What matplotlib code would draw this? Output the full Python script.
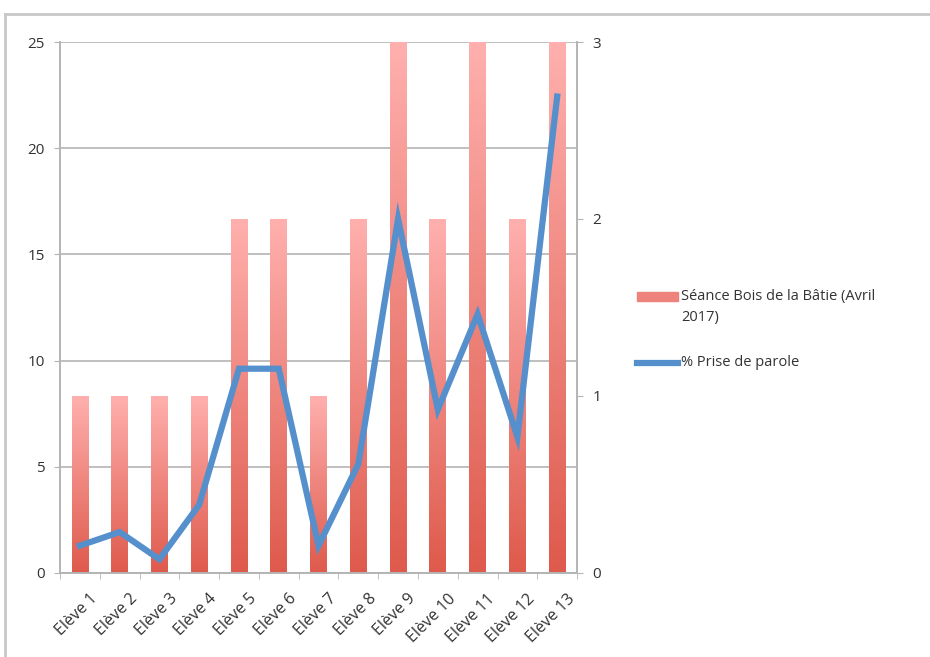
import numpy as np
import matplotlib.pyplot as plt
from matplotlib.colors import LinearSegmentedColormap
from matplotlib.lines import Line2D
from matplotlib.patches import Rectangle
from matplotlib.transforms import ScaledTranslation

plt.rcParams['font.family'] = ['Open Sans', 'DejaVu Sans']

eleves = ["Elève %d" % i for i in range(1, 14)]
seance = [8.33, 8.33, 8.33, 8.33, 16.67, 16.67, 8.33, 16.67, 25, 16.67, 25, 16.67, 25]
prise_parole = [0.154, 0.231, 0.077, 0.385, 1.154, 1.154, 0.154, 0.615, 2.0, 0.923, 1.462, 0.769, 2.692]

label_bars = "Séance Bois de la Bâtie (Avril\n2017)"
label_line = "% Prise de parole"

grid_col = "#b4b4b4"
text_col = "#333333"
line_col = "#5690CC"

W, H = 930, 657
fig = plt.figure(figsize=(W / 100, H / 100), dpi=100)
ax = fig.add_axes([0.0645, 0.128, 0.556, 0.808])
ax2 = ax.twinx()

x = np.arange(len(eleves))
bars = ax.bar(x, seance, width=0.42, color="none", zorder=2)

# degradé rose -> rouge sur chaque barre
cmap = LinearSegmentedColormap.from_list("rouge", ["#DE5A4C", "#FFB0AE"])
grad = np.linspace(0, 1, 256).reshape(-1, 1)
for b in bars:
    x0, y0 = b.get_x(), b.get_y()
    im = ax.imshow(grad, cmap=cmap, origin="lower", aspect="auto",
                   extent=[x0, x0 + b.get_width(), y0, y0 + b.get_height()],
                   zorder=2)
    im.set_clip_path(b)

ax.set_xlim(-0.5, len(eleves) - 0.5)
ax.set_ylim(0, 25)
ax.set_yticks([0, 5, 10, 15, 20, 25])
ax.yaxis.grid(True, color=grid_col, linewidth=1.2)
ax.set_axisbelow(True)
ax.set_xticks(x)
ax.set_xticklabels(eleves, rotation=45, ha="right", rotation_mode="anchor")
ax.set_xticks(np.arange(-0.5, len(eleves), 1), minor=True)
ax.tick_params(axis="x", which="major", length=0, pad=13, labelsize=11.5, colors=text_col)
ax.tick_params(axis="x", which="minor", length=4, color=grid_col, direction="out")
ax.tick_params(axis="y", length=4, color=grid_col, labelsize=11, labelcolor=text_col, pad=7)
shift = ScaledTranslation(7 / 72, 0, fig.dpi_scale_trans)
for lbl in ax.get_xticklabels():
    lbl.set_transform(lbl.get_transform() + shift)

ax2.plot(x, prise_parole, color=line_col, linewidth=4.5, solid_joinstyle="miter", zorder=3)
ax2.set_ylim(0, 3)
ax2.set_yticks([0, 1, 2, 3])
ax2.tick_params(axis="y", length=4, color=grid_col, labelsize=11, labelcolor=text_col, pad=7)

for a in (ax, ax2):
    a.spines["top"].set_visible(False)
    for s in ("left", "right", "bottom"):
        a.spines[s].set_color(grid_col)
        a.spines[s].set_linewidth(1.2)
ax.set_xlim(-0.5, len(eleves) - 0.5)

# légende dessinée à la main (comme Excel : repère aligné sur la 1re ligne)
fig.add_artist(Rectangle((637 / W, 1 - 301 / H), 41 / W, 9 / H,
                         transform=fig.transFigure, color="#EE827C"))
fig.text(681 / W, 1 - 289 / H, label_bars, va="top", ha="left",
         fontsize=10.5, color=text_col, linespacing=1.55)
fig.add_artist(Line2D([637 / W, 678 / W], [1 - 363 / H, 1 - 363 / H],
                      color=line_col, linewidth=4.5))
fig.text(681 / W, 1 - 363 / H, label_line, va="center", ha="left",
         fontsize=10.5, color=text_col)

# cadre du graphique
fig.add_artist(Line2D([0.005, 1.0], [0.979, 0.979], color="#c8c8c8", linewidth=2))
fig.add_artist(Line2D([0.005, 0.005], [0.0, 0.979], color="#c8c8c8", linewidth=2))

fig.savefig("out.png", dpi=100)
